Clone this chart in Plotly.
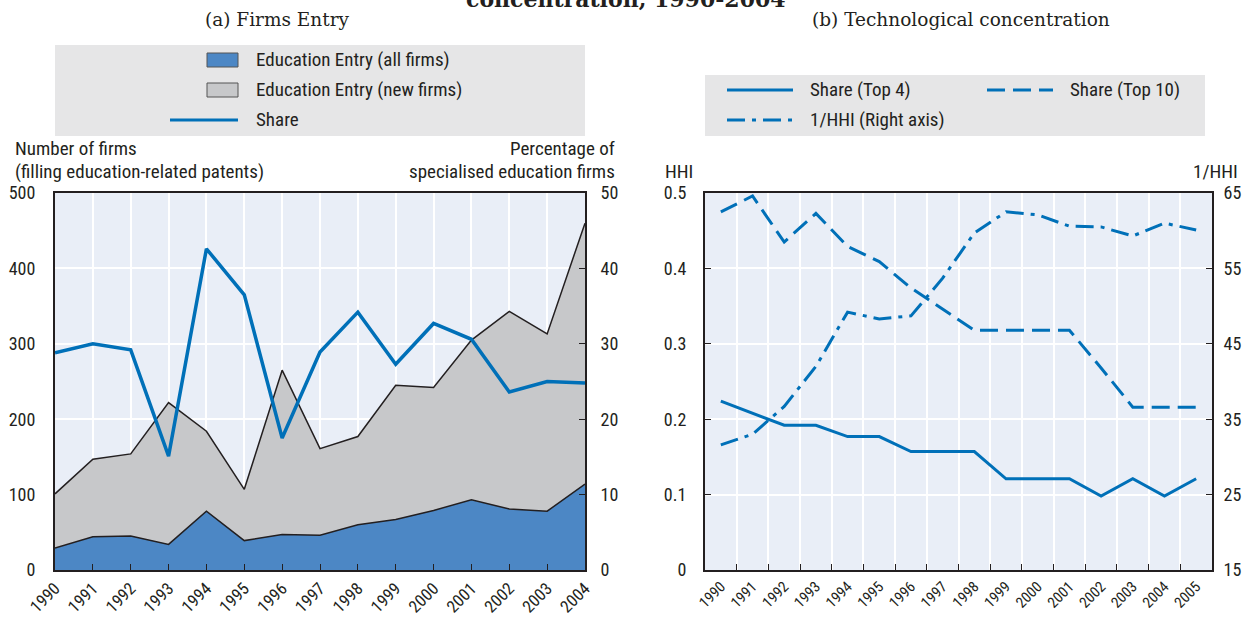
import plotly.graph_objects as go

# ---------- data ----------
years_a = list(range(1990, 2005))
entry_all = [29, 44, 45, 34, 78, 39, 47, 46, 60, 67, 79, 93, 81, 78, 114]
entry_new = [101, 147, 154, 222, 184, 107, 265, 161, 177, 245, 242, 305, 343, 313, 460]
share_pct = [28.8, 30.0, 29.2, 15.1, 42.6, 36.5, 17.5, 28.9, 34.2, 27.3, 32.7, 30.6, 23.6, 25.0, 24.8]

years_b = [str(y) for y in range(1990, 2006)]
share_top4 = [0.224, 0.208, 0.192, 0.192, 0.177, 0.177, 0.157, 0.157, 0.157, 0.121, 0.121, 0.121, 0.098, 0.121, 0.098, 0.121]
share_top10 = [0.475, 0.496, 0.435, 0.473, 0.429, 0.409, 0.374, 0.346, 0.318, 0.318, 0.318, 0.318, 0.268, 0.216, 0.216, 0.216]
inv_hhi = [31.6, 33.0, 36.7, 42.0, 49.2, 48.3, 48.7, 53.7, 59.7, 62.5, 62.1, 60.6, 60.5, 59.3, 61.0, 60.1]

# ---------- style ----------
W, H = 1247, 617
BLUE_AREA = "#4C87C5"
GREY_AREA = "#C7C8CA"
LINE_BLUE = "#0070B8"
INK = "#231F20"
PLOT_BG = "#E9EEF7"
LEGEND_BG = "#E6E6E7"
SANS = "Liberation Sans Narrow, Roboto Condensed, Arial Narrow, Liberation Sans, sans-serif"
SERIF = "DejaVu Serif, Liberation Serif, serif"
DASH = "18px,8px"
DASHDOT = "18px,7px,4px,7px"
FS = 19


def px_x(x):
    return x / W


def px_y(y):
    return 1 - y / H


fig = go.Figure()

# panel (a): stacked entry areas + share line
fig.add_trace(go.Scatter(x=years_a, y=entry_new, mode="lines", fill="tozeroy",
                         fillcolor=GREY_AREA, line=dict(color=INK, width=1.5),
                         xaxis="x", yaxis="y", showlegend=False))
fig.add_trace(go.Scatter(x=years_a, y=entry_all, mode="lines", fill="tozeroy",
                         fillcolor=BLUE_AREA, line=dict(color=INK, width=1.5),
                         xaxis="x", yaxis="y", showlegend=False))
fig.add_trace(go.Scatter(x=years_a, y=share_pct, mode="lines",
                         line=dict(color=LINE_BLUE, width=3.5),
                         xaxis="x", yaxis="y2", showlegend=False))

# panel (b): concentration measures
fig.add_trace(go.Scatter(x=years_b, y=share_top4, mode="lines",
                         line=dict(color=LINE_BLUE, width=3),
                         xaxis="x3", yaxis="y3", showlegend=False))
fig.add_trace(go.Scatter(x=years_b, y=share_top10, mode="lines",
                         line=dict(color=LINE_BLUE, width=3, dash=DASH),
                         xaxis="x3", yaxis="y3", showlegend=False))
fig.add_trace(go.Scatter(x=years_b, y=inv_hhi, mode="lines",
                         line=dict(color=LINE_BLUE, width=3, dash=DASHDOT),
                         xaxis="x3", yaxis="y4", showlegend=False))

ydom = [px_y(570), px_y(193)]
axis_common = dict(showline=True, linewidth=2, linecolor=INK, gridcolor="white",
                   gridwidth=1.5, zeroline=False, ticks="inside", ticklen=6,
                   tickcolor=INK, automargin=False,
                   tickfont=dict(family=SANS, size=18, color=INK))

fig.update_layout(
    width=W, height=H, margin=dict(l=0, r=0, t=0, b=0, autoexpand=False),
    paper_bgcolor="white", plot_bgcolor=PLOT_BG, showlegend=False,
    xaxis=dict(axis_common, domain=[px_x(55), px_x(585)], range=[1990, 2004],
               dtick=1, tickangle=-45, mirror=True, showgrid=True,
               tickfont=dict(family=SANS, size=17, color=INK), anchor="y"),
    yaxis=dict(axis_common, domain=ydom, range=[0, 500], dtick=100, ticks="",
               ticklabelstandoff=14, anchor="x"),
    yaxis2=dict(axis_common, domain=ydom, range=[0, 50], dtick=10, overlaying="y",
                side="right", showgrid=False, ticklabelstandoff=10, anchor="x"),
    xaxis3=dict(axis_common, domain=[px_x(705), px_x(1212)], type="category",
                range=[-0.5, 15.5], tickson="boundaries", tickangle=-45, mirror=True,
                tickfont=dict(family=SANS, size=15, color=INK), anchor="y3"),
    yaxis3=dict(axis_common, domain=ydom, range=[0, 0.5], dtick=0.1,
                ticklabelstandoff=13, anchor="x3"),
    yaxis4=dict(axis_common, domain=ydom, range=[15, 65], tick0=15, dtick=10,
                overlaying="y3", side="right", showgrid=False, ticklabelstandoff=6,
                anchor="x3"),
)

shapes = []
annotations = []


def text(x, y, s, size=FS, xanchor="left", family=SANS, yanchor="middle", **kw):
    annotations.append(dict(xref="paper", yref="paper", x=px_x(x), y=px_y(y), text=s,
                            showarrow=False, xanchor=xanchor, yanchor=yanchor,
                            font=dict(family=family, size=size, color=INK), **kw))


# legend backgrounds
shapes.append(dict(type="rect", xref="paper", yref="paper", x0=px_x(55), x1=px_x(585),
                   y0=px_y(136), y1=px_y(45), fillcolor=LEGEND_BG, line=dict(width=0),
                   layer="below"))
shapes.append(dict(type="rect", xref="paper", yref="paper", x0=px_x(705), x1=px_x(1205),
                   y0=px_y(136), y1=px_y(75), fillcolor=LEGEND_BG, line=dict(width=0),
                   layer="below"))

# legend (a)
for yc, col, lab in [(60, BLUE_AREA, "Education Entry (all firms)"),
                     (90, GREY_AREA, "Education Entry (new firms)")]:
    shapes.append(dict(type="rect", xref="paper", yref="paper", x0=px_x(207), x1=px_x(238),
                       y0=px_y(yc + 7), y1=px_y(yc - 7), fillcolor=col,
                       line=dict(color="#555555", width=1)))
    text(254, yc, lab)
shapes.append(dict(type="line", xref="paper", yref="paper", x0=px_x(170), x1=px_x(238),
                   y0=px_y(120), y1=px_y(120), line=dict(color=LINE_BLUE, width=3)))
text(254, 120, "Share")

# legend (b)
for x0, yc, dash, lab in [(727, 90, "solid", "Share (Top 4)"),
                          (987, 90, DASH, "Share (Top 10)"),
                          (727, 120, DASHDOT, "1/HHI (Right axis)")]:
    shapes.append(dict(type="line", xref="paper", yref="paper", x0=px_x(x0), x1=px_x(x0 + 66),
                       y0=px_y(yc), y1=px_y(yc), line=dict(color=LINE_BLUE, width=3, dash=dash)))
    text(x0 + 81, yc, lab)

# axis titles
text(13, 148, "Number of firms", xanchor="left")
text(13, 171, "(filling education-related patents)", xanchor="left")
text(617, 148, "Percentage of", xanchor="right")
text(617, 171, "specialised education firms", xanchor="right")
text(663, 171, "HHI", xanchor="left")
text(1240, 171, "1/HHI", xanchor="right")

# panel titles
text(277, 19, "(a) Firms Entry", size=18.5, xanchor="center", family=SERIF)
text(961, 19, "(b) Technological concentration", size=18.5, xanchor="center", family=SERIF)
text(626, -1.5, "<b>concentration, 1990-2004</b>", size=22, xanchor="center", family=SERIF)

fig.update_layout(shapes=shapes, annotations=annotations)
fig.write_html("out.html")
